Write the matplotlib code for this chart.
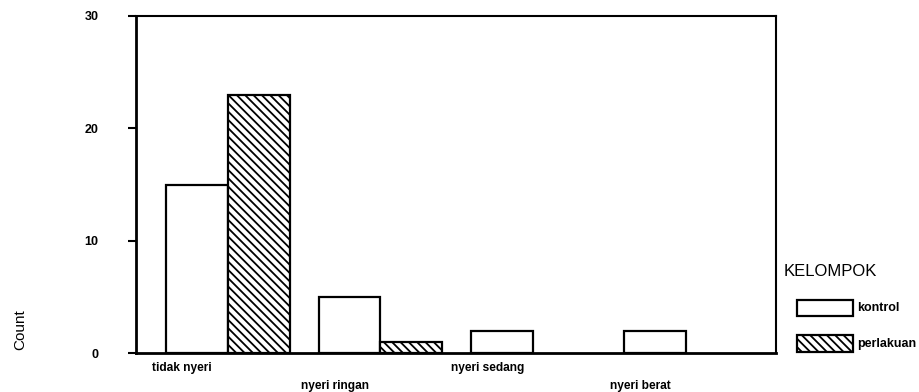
import matplotlib
matplotlib.use("Agg")
import matplotlib.pyplot as plt
from matplotlib.patches import Rectangle
import numpy as np

plt.rcParams['font.family'] = ['Liberation Sans', 'DejaVu Sans']
plt.rcParams['hatch.linewidth'] = 1.3

categories = ["tidak nyeri", "nyeri ringan", "nyeri sedang", "nyeri berat"]
kontrol = [15, 5, 2, 2]
perlakuan = [23, 1, 0, 0]
series_names = ["kontrol", "perlakuan"]
legend_title = "KELOMPOK"
yticks = [0, 10, 20, 30]

W, H = 920, 392
fig = plt.figure(figsize=(W/100, H/100), dpi=100)
ax = fig.add_axes([136/W, 1-353/H, 640/W, 337/H])

x = np.arange(len(categories))
w = 0.405
hatches = [None, '\\\\\\\\']
b1 = ax.bar(x - w/2, kontrol, w, facecolor='white', edgecolor='black', linewidth=1.6)
b2 = ax.bar(x + w/2, perlakuan, w, facecolor='white', edgecolor='black', linewidth=1.6,
            hatch=hatches[1])
for r, v in zip(b2, perlakuan):
    if v == 0:
        r.set_visible(False)

ax.set_xlim(-0.6, 3.59)
ax.set_ylim(0, 30)
ax.set_yticks(yticks)
ax.set_yticklabels([str(t) for t in yticks], fontsize=9, fontweight='bold')
ax.tick_params(axis='y', direction='out', length=6, width=1.5, pad=21)

ax.set_xticks(x - 0.3)
ax.set_xticklabels(categories, fontsize=8.6, fontweight='bold')
ax.tick_params(axis='x', length=0)
for i, lab in enumerate(ax.get_xticklabels()):
    lab.set_y(-0.013 if i % 2 == 0 else -0.066)

for s in ['left', 'bottom']:
    ax.spines[s].set_linewidth(2.0)
for s in ['top', 'right']:
    ax.spines[s].set_linewidth(1.5)

fig.text(20/W, 1-330/H, "Count", rotation=90, fontsize=11, ha='center', va='center')

# legend
fig.text(784/W, 1-271/H, legend_title, fontsize=12, ha='left', va='center')
rows = [(300, 316), (335, 352)]
for (y0, y1), name, hh in zip(rows, series_names, hatches):
    rect = Rectangle((797/W, 1-y1/H), 56/W, (y1-y0)/H, transform=fig.transFigure,
                     facecolor='white', edgecolor='black', linewidth=1.6, hatch=hh)
    fig.add_artist(rect)
    fig.text(857/W, 1-(y0+y1)/2/H, name, fontsize=9, fontweight='bold',
             ha='left', va='center')

fig.savefig("out.png", dpi=100)
